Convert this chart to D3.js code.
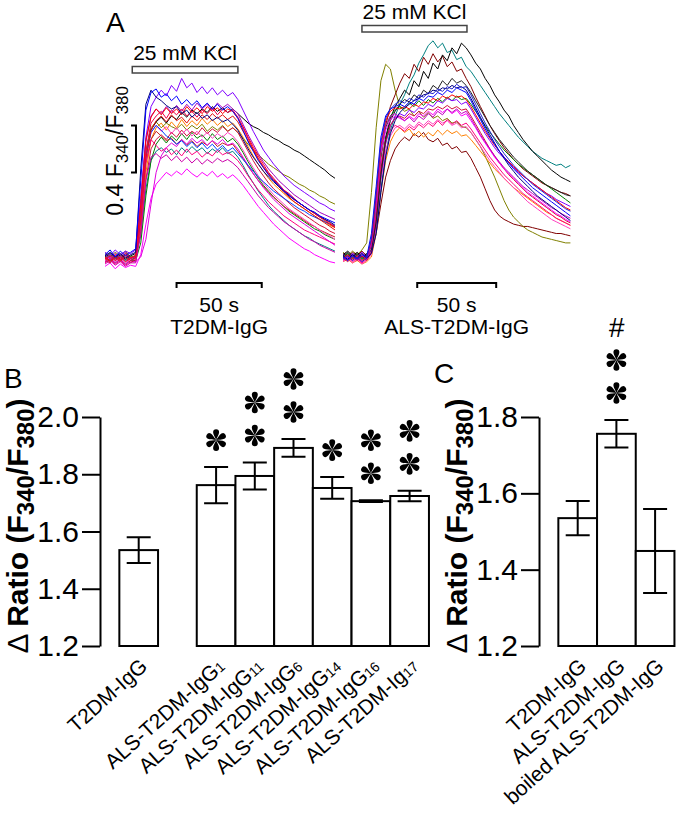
<!DOCTYPE html>
<html><head><meta charset="utf-8">
<script src="https://cdn.jsdelivr.net/npm/d3@7"></script>
<style>html,body{margin:0;padding:0;background:#fff}svg{display:block}</style>
</head><body><svg id="fig" width="677" height="817"></svg>
<script>
// ---------------- DATA ----------------
// Panel A: time grids (s) and F340/F380 traces
const timeLeft  = [0,3,6,9,12,15,18,21,24,27,30,33,36,39,42,45,48,51,54,57,60,63,66,69,72,75,78,81,84,87,90,93,96,99,102,105,108,111,114,117,120,123,126,129,132,135];
const timeRight = [0,3,6,9,12,15,18,21,24,27,30,33,36,39,42,45,48,51,54,57,60,63,66,69,72,75,78,81,84,87,90,93,96,99,102,105,108,111,114,117,120,123,126,129,132,135,138,141,144];

const tracesLeft = [
 [0.59,0.62,0.58,0.61,0.57,0.60,0.61, 0.78,1.18,1.42, 1.50,1.53,1.49,1.52,1.47,1.53,1.49,1.54,1.50,1.53,1.48,1.52,1.49,1.53,1.48,1.50, 1.45,1.38,1.30,1.23,1.16,1.10,1.04,0.99,0.95,0.91,0.87,0.84,0.81,0.78,0.76,0.73,0.71,0.69,0.67,0.65],
 [0.56,0.59,0.55,0.58,0.54,0.57,0.57, 0.72,1.12,1.42, 1.56,1.62,1.57,1.63,1.59,1.65,1.60,1.66,1.61,1.64,1.59,1.65,1.60,1.63,1.58,1.61, 1.56,1.49,1.41,1.34,1.27,1.21,1.16,1.11,1.07,1.03,0.99,0.96,0.93,0.90,0.87,0.84,0.82,0.79,0.77,0.75],
 [0.60,0.57,0.61,0.59,0.62,0.58,0.62, 0.85,1.32,1.60, 1.70,1.74,1.68,1.75,1.70,1.77,1.71,1.76,1.72,1.78,1.73,1.77,1.72,1.76,1.71,1.74, 1.69,1.62,1.54,1.46,1.39,1.33,1.27,1.22,1.18,1.14,1.10,1.07,1.04,1.01,0.98,0.95,0.92,0.90,0.87,0.85],
 [0.63,0.60,0.64,0.61,0.65,0.60,0.61, 1.00,1.50,1.70, 1.75,1.70,1.74,1.71,1.69,1.73,1.68,1.72,1.69,1.73,1.67,1.71,1.68,1.72,1.67,1.70, 1.66,1.61,1.56,1.51,1.47,1.43,1.39,1.36,1.33,1.30,1.28,1.25,1.22,1.20,1.17,1.15,1.12,1.10,1.07,1.05],
 [0.60,0.63,0.59,0.62,0.58,0.61,0.63, 0.98,1.45,1.68, 1.75,1.79,1.74,1.80,1.77,1.83,1.79,1.85,1.82,1.86,1.83,1.88,1.84,1.87,1.83,1.86, 1.82,1.78,1.74,1.71,1.69,1.66,1.64,1.61,1.59,1.56,1.54,1.51,1.49,1.46,1.43,1.40,1.37,1.34,1.30,1.27],
 [0.52,0.55,0.50,0.54,0.51,0.53,0.52, 0.62,0.88,1.10, 1.22,1.27,1.32,1.29,1.33,1.30,1.35,1.31,1.28,1.32,1.29,1.33,1.28,1.31,1.27,1.30, 1.26,1.21,1.15,1.09,1.03,0.98,0.93,0.88,0.84,0.80,0.76,0.73,0.70,0.67,0.65,0.62,0.60,0.58,0.56,0.55],
 [0.64,0.61,0.66,0.62,0.65,0.63,0.66, 1.10,1.62,1.88, 1.96,2.02,1.97,2.06,2.01,2.12,2.04,2.08,2.00,2.05,1.99,2.04,1.98,2.02,1.97,2.00, 1.94,1.85,1.76,1.67,1.59,1.51,1.45,1.39,1.34,1.29,1.25,1.21,1.18,1.15,1.12,1.09,1.06,1.04,1.01,0.99],
 [0.58,0.61,0.57,0.60,0.56,0.59,0.59, 0.95,1.40,1.60, 1.67,1.63,1.59,1.61,1.56,1.60,1.55,1.59,1.54,1.58,1.55,1.59,1.54,1.57,1.55,1.56, 1.50,1.44,1.37,1.31,1.25,1.20,1.15,1.11,1.07,1.03,1.00,0.97,0.94,0.91,0.88,0.86,0.83,0.81,0.79,0.77],
 [0.55,0.58,0.54,0.57,0.53,0.56,0.56, 0.90,1.40,1.60, 1.55,1.50,1.53,1.47,1.51,1.46,1.52,1.47,1.50,1.45,1.49,1.46,1.51,1.47,1.49,1.46, 1.42,1.36,1.29,1.23,1.17,1.12,1.07,1.03,0.99,0.95,0.92,0.89,0.86,0.83,0.81,0.79,0.77,0.75,0.73,0.71],
 [0.56,0.59,0.55,0.58,0.54,0.57,0.56, 0.60,0.75,1.05, 1.32,1.46,1.53,1.57,1.54,1.60,1.56,1.61,1.57,1.60,1.55,1.59,1.56,1.60,1.55,1.57, 1.52,1.45,1.38,1.31,1.25,1.19,1.14,1.09,1.05,1.01,0.97,0.94,0.91,0.88,0.85,0.82,0.79,0.76,0.73,0.70],
 [0.57,0.55,0.59,0.56,0.60,0.55,0.58, 0.82,1.26,1.52, 1.60,1.64,1.60,1.66,1.62,1.68,1.63,1.67,1.64,1.70,1.65,1.69,1.66,1.71,1.67,1.70, 1.66,1.58,1.50,1.42,1.35,1.29,1.23,1.18,1.14,1.10,1.06,1.02,0.99,0.96,0.93,0.90,0.87,0.85,0.82,0.80],
 [0.57,0.60,0.56,0.59,0.55,0.58,0.58, 1.00,1.45,1.66, 1.72,1.67,1.71,1.65,1.70,1.64,1.69,1.63,1.67,1.62,1.66,1.61,1.65,1.62,1.66,1.63, 1.58,1.51,1.43,1.36,1.29,1.23,1.18,1.13,1.09,1.05,1.01,0.98,0.95,0.92,0.89,0.86,0.83,0.80,0.78,0.75],
 [0.54,0.57,0.53,0.56,0.52,0.55,0.55, 0.80,1.25,1.45, 1.48,1.44,1.47,1.42,1.46,1.41,1.45,1.40,1.44,1.39,1.43,1.40,1.44,1.41,1.43,1.40, 1.36,1.30,1.24,1.18,1.12,1.07,1.02,0.98,0.94,0.90,0.87,0.84,0.81,0.78,0.75,0.73,0.70,0.68,0.66,0.64],
 [0.62,0.59,0.63,0.60,0.64,0.59,0.61, 1.10,1.58,1.80, 1.86,1.82,1.88,1.83,1.89,1.84,1.90,1.85,1.91,1.86,1.90,1.85,1.91,1.87,1.90,1.86, 1.82,1.73,1.64,1.56,1.48,1.41,1.35,1.30,1.25,1.21,1.17,1.13,1.10,1.07,1.04,1.01,0.98,0.96,0.94,0.92],
 [0.60,0.57,0.61,0.58,0.62,0.57,0.60, 1.00,1.46,1.66, 1.72,1.68,1.63,1.60,1.56,1.59,1.54,1.58,1.53,1.57,1.52,1.56,1.51,1.55,1.50,1.53, 1.48,1.43,1.38,1.33,1.28,1.24,1.20,1.16,1.13,1.10,1.07,1.04,1.01,0.99,0.96,0.94,0.92,0.90,0.88,0.86],
 [0.59,0.56,0.60,0.57,0.61,0.57,0.59, 0.92,1.44,1.68, 1.76,1.80,1.75,1.81,1.76,1.79,1.74,1.80,1.76,1.81,1.77,1.82,1.78,1.81,1.77,1.80, 1.75,1.67,1.59,1.51,1.43,1.36,1.30,1.25,1.20,1.15,1.11,1.07,1.04,1.01,0.98,0.95,0.92,0.89,0.86,0.83],
 [0.60,0.57,0.62,0.58,0.63,0.59,0.61, 1.05,1.60,1.79, 1.86,1.81,1.87,1.82,1.86,1.81,1.88,1.83,1.87,1.82,1.88,1.84,1.87,1.82,1.86,1.84, 1.78,1.70,1.61,1.52,1.44,1.37,1.31,1.26,1.21,1.17,1.13,1.09,1.06,1.03,1.00,0.97,0.94,0.91,0.88,0.85],
 [0.58,0.61,0.57,0.60,0.56,0.59,0.60, 0.95,1.50,1.74, 1.80,1.84,1.78,1.85,1.81,1.86,1.80,1.84,1.79,1.85,1.82,1.87,1.81,1.86,1.83,1.85, 1.79,1.71,1.62,1.54,1.46,1.39,1.32,1.27,1.22,1.17,1.14,1.10,1.06,1.03,1.00,0.97,0.94,0.92,0.89,0.86],
 [0.61,0.64,0.60,0.63,0.59,0.62,0.64, 1.35,1.90,2.02, 1.96,1.93,1.89,1.86,1.88,1.82,1.85,1.79,1.83,1.78,1.81,1.76,1.79,1.75,1.77,1.73, 1.68,1.60,1.52,1.45,1.39,1.33,1.28,1.24,1.20,1.16,1.12,1.09,1.06,1.03,1.00,0.98,0.95,0.92,0.90,0.87],
 [0.62,0.66,0.60,0.65,0.61,0.64,0.67, 1.25,1.85,2.00, 2.03,1.96,1.99,1.93,1.97,1.90,1.94,1.89,1.93,1.87,1.91,1.86,1.90,1.85,1.88,1.84, 1.78,1.68,1.58,1.50,1.42,1.36,1.30,1.25,1.21,1.16,1.13,1.09,1.06,1.03,1.00,0.98,0.95,0.93,0.91,0.89]
];
const colorsLeft = ["#008080","#008000","#ff8000","#808000","#000000","#ff00ff","#8000ff","#c02020","#ff0080","#e000e0","#d0103a","#ff40c0","#cc00aa","#a000c0","#0040ff","#e01010","#ff0000","#ee0044","#000080","#0000ff"];

const tracesRight = [
 [0.61,0.58,0.62,0.59,0.63,0.59, 0.64,0.80,1.05,1.28,1.42,1.52, 1.58,1.62,1.59,1.65,1.62,1.66,1.60,1.58,1.61,1.55,1.57,1.52,1.54,1.49,1.50, 1.44,1.36,1.28,1.18,1.08,1.00,0.95,0.92,0.90,0.88,0.87,0.86,0.86,0.85,0.84,0.83,0.82,0.81,0.80,0.80,0.79,0.78],
 [0.64,0.61,0.65,0.62,0.66,0.72, 1.15,1.70,2.10,2.24,2.20,2.02, 1.88,1.84,1.86,1.80,1.84,1.79,1.83,1.78,1.80,1.76,1.78,1.74,1.75,1.71,1.70, 1.66,1.60,1.54,1.46,1.37,1.28,1.18,1.08,1.00,0.94,0.90,0.86,0.83,0.81,0.79,0.77,0.76,0.75,0.74,0.73,0.72,0.72],
 [0.56,0.58,0.55,0.57,0.54,0.56, 0.60,0.80,1.15,1.42,1.58,1.66, 1.70,1.66,1.69,1.63,1.67,1.62,1.66,1.63,1.68,1.64,1.68,1.65,1.67,1.63,1.64, 1.60,1.55,1.50,1.45,1.40,1.35,1.31,1.27,1.23,1.19,1.16,1.13,1.10,1.07,1.04,1.01,0.98,0.96,0.93,0.91,0.89,0.87],
 [0.60,0.63,0.59,0.62,0.58,0.61, 0.64,0.82,1.18,1.48,1.68,1.80, 1.90,1.98,2.08,2.15,2.25,2.32,2.40,2.44,2.38,2.42,2.34,2.36,2.28,2.30,2.22, 2.18,2.12,2.06,2.00,1.94,1.88,1.82,1.77,1.72,1.67,1.62,1.58,1.54,1.50,1.47,1.44,1.42,1.40,1.38,1.39,1.36,1.38],
 [0.63,0.60,0.64,0.61,0.65,0.61, 0.72,1.05,1.45,1.72,1.88,1.98, 2.08,2.16,2.12,2.24,2.18,2.30,2.24,2.33,2.26,2.31,2.22,2.26,2.18,2.20,2.12, 2.05,1.96,1.88,1.80,1.72,1.65,1.59,1.53,1.48,1.43,1.39,1.35,1.32,1.29,1.26,1.23,1.21,1.19,1.17,1.15,1.14,1.12],
 [0.62,0.65,0.61,0.64,0.60,0.63, 0.68,0.95,1.35,1.62,1.78,1.88, 1.95,2.02,1.98,2.10,2.05,2.18,2.12,2.25,2.20,2.32,2.27,2.38,2.33,2.42,2.38, 2.32,2.25,2.20,2.12,2.06,1.98,1.92,1.85,1.80,1.72,1.66,1.60,1.55,1.50,1.46,1.42,1.38,1.34,1.31,1.28,1.26,1.24],
 [0.56,0.59,0.55,0.58,0.54,0.57, 0.62,0.85,1.25,1.50,1.63,1.70, 1.72,1.69,1.73,1.70,1.75,1.72,1.76,1.73,1.77,1.74,1.76,1.72,1.74,1.70,1.71, 1.66,1.60,1.54,1.48,1.42,1.37,1.32,1.27,1.23,1.19,1.15,1.11,1.07,1.04,1.01,0.98,0.95,0.92,0.90,0.88,0.86,0.84],
 [0.60,0.63,0.59,0.62,0.58,0.61, 0.70,1.02,1.45,1.70,1.80,1.85, 1.88,1.86,1.91,1.88,1.93,1.89,1.94,1.91,1.95,1.92,1.96,1.93,1.97,1.94,1.95, 1.90,1.84,1.78,1.72,1.66,1.61,1.56,1.51,1.47,1.43,1.39,1.36,1.33,1.30,1.27,1.24,1.21,1.18,1.15,1.12,1.09,1.06],
 [0.57,0.60,0.56,0.59,0.55,0.58, 0.66,0.96,1.38,1.60,1.68,1.72, 1.70,1.67,1.71,1.68,1.73,1.70,1.74,1.71,1.76,1.72,1.77,1.73,1.76,1.72,1.74, 1.69,1.63,1.57,1.51,1.45,1.40,1.35,1.30,1.26,1.22,1.18,1.14,1.11,1.08,1.05,1.02,0.99,0.96,0.93,0.91,0.89,0.87],
 [0.62,0.59,0.63,0.60,0.64,0.60, 0.66,0.88,1.28,1.56,1.72,1.79, 1.82,1.80,1.85,1.83,1.87,1.86,1.90,1.88,1.93,1.91,1.95,1.93,1.94,1.90,1.92, 1.86,1.79,1.72,1.65,1.59,1.53,1.48,1.44,1.40,1.36,1.32,1.29,1.26,1.23,1.20,1.17,1.14,1.12,1.09,1.07,1.05,1.03],
 [0.59,0.56,0.60,0.57,0.61,0.57, 0.64,0.90,1.32,1.58,1.72,1.78, 1.80,1.78,1.82,1.80,1.84,1.82,1.86,1.85,1.88,1.86,1.89,1.86,1.88,1.85,1.86, 1.80,1.73,1.66,1.59,1.52,1.46,1.40,1.35,1.30,1.26,1.22,1.18,1.14,1.11,1.08,1.05,1.02,0.99,0.96,0.94,0.91,0.89],
 [0.61,0.64,0.60,0.63,0.59,0.62, 0.66,0.90,1.30,1.60,1.76,1.84, 1.90,1.94,1.92,1.98,1.95,2.02,1.99,2.06,2.03,2.10,2.06,2.12,2.08,2.10,2.06, 2.00,1.93,1.86,1.79,1.72,1.66,1.60,1.55,1.50,1.45,1.41,1.37,1.33,1.30,1.27,1.24,1.21,1.19,1.17,1.15,1.13,1.12],
 [0.58,0.62,0.57,0.61,0.56,0.60, 0.72,1.05,1.48,1.68,1.77,1.80, 1.78,1.76,1.80,1.77,1.82,1.80,1.84,1.81,1.86,1.83,1.86,1.82,1.85,1.80,1.82, 1.76,1.70,1.63,1.57,1.51,1.45,1.40,1.35,1.31,1.27,1.23,1.19,1.15,1.12,1.09,1.06,1.03,1.00,0.97,0.95,0.92,0.90],
 [0.60,0.57,0.61,0.58,0.62,0.58, 0.70,1.08,1.52,1.72,1.80,1.82, 1.79,1.76,1.79,1.75,1.80,1.77,1.82,1.79,1.84,1.81,1.86,1.83,1.86,1.82,1.84, 1.78,1.71,1.64,1.58,1.52,1.46,1.41,1.36,1.32,1.28,1.24,1.20,1.17,1.14,1.11,1.08,1.05,1.02,1.00,0.97,0.95,0.93],
 [0.59,0.62,0.58,0.61,0.57,0.60, 0.74,1.12,1.55,1.76,1.84,1.87, 1.86,1.88,1.86,1.90,1.88,1.92,1.91,1.95,1.93,1.97,1.95,1.98,1.96,1.97,1.94, 1.88,1.81,1.74,1.67,1.61,1.55,1.50,1.45,1.41,1.37,1.33,1.29,1.26,1.23,1.20,1.17,1.14,1.11,1.08,1.05,1.02,1.00],
 [0.61,0.58,0.62,0.59,0.63,0.59, 0.63,0.80,1.15,1.45,1.65,1.76, 1.83,1.87,1.90,1.93,1.95,1.98,1.99,2.02,2.01,2.04,2.03,2.06,2.04,2.05,2.02, 1.95,1.87,1.79,1.71,1.64,1.57,1.50,1.44,1.38,1.33,1.28,1.24,1.20,1.16,1.12,1.09,1.06,1.03,1.00,0.97,0.94,0.91],
 [0.60,0.57,0.61,0.58,0.62,0.60, 0.80,1.20,1.62,1.80,1.86,1.88, 1.90,1.88,1.92,1.90,1.95,1.93,1.97,1.96,2.00,1.98,2.02,2.00,2.04,2.02,2.00, 1.93,1.85,1.77,1.69,1.62,1.56,1.50,1.45,1.40,1.35,1.31,1.27,1.23,1.19,1.16,1.13,1.10,1.07,1.04,1.01,0.98,0.95],
 [0.58,0.61,0.57,0.60,0.56,0.59, 0.76,1.15,1.58,1.78,1.86,1.90, 1.93,1.91,1.95,1.93,1.98,1.96,2.00,1.99,2.03,2.01,2.05,2.03,2.07,2.04,2.05, 1.98,1.90,1.82,1.74,1.67,1.60,1.54,1.48,1.43,1.38,1.34,1.30,1.26,1.22,1.19,1.16,1.13,1.10,1.07,1.04,1.01,0.99]
];
const colorsRight = ["#800000","#808000","#ff8000","#008080","#800000","#000000","#ff40c0","#008000","#ff0080","#8000ff","#d0103a","#202020","#ff00ff","#c000c0","#ff0000","#000080","#0000ff","#2020d0"];

const kclLeft = [16, 78];      // s
const kclRight = [12, 78.5];   // s
const scaleBarTime = 50;       // s
const scaleBarLeftStart = 42, scaleBarRightStart = 47;
const scaleBarRatio = [1.32, 1.72]; // 0.4 ratio units

// Panel B
const slotsB = ["T2DM-IgG", "", "ALS1", "ALS11", "ALS6", "ALS14", "ALS16", "ALS17"];
const labelBaseB = ["T2DM-IgG", "ALS-T2DM-IgG", "ALS-T2DM-IgG", "ALS-T2DM-IgG", "ALS-T2DM-IgG", "ALS-T2DM-IgG", "ALS-T2DM-Ig"];
const labelSubB  = ["", "1", "11", "6", "14", "16", "17"];
const catsB = ["T2DM-IgG", "ALS1", "ALS11", "ALS6", "ALS14", "ALS16", "ALS17"];
const meansB = [1.535, 1.762, 1.794, 1.892, 1.752, 1.706, 1.724];
const semB   = [0.045, 0.063, 0.047, 0.031, 0.038, 0.003, 0.018];
const starsB = [0, 1, 2, 2, 1, 2, 2];
const ticksB = [1.2, 1.4, 1.6, 1.8, 2.0];

// Panel C
const catsC = ["T2DM-IgG", "ALS-T2DM-IgG", "boiled ALS-T2DM-IgG"];
const meansC = [1.535, 1.756, 1.449];
const semC   = [0.045, 0.036, 0.110];
const starsC = [0, 2, 0];
const hashC  = [false, true, false];
const ticksC = [1.2, 1.4, 1.6, 1.8];

// ---------------- DRAW ----------------
const FONT = "'Liberation Sans', Arial, Helvetica, sans-serif";
const svg = d3.select("#fig").attr("font-family", FONT);
svg.append("rect").attr("width", 677).attr("height", 817).attr("fill", "#fff");

// Panel A scales
const xL = d3.scaleLinear().domain([0, 135]).range([105, 335]);
const xR = d3.scaleLinear().domain([0, 145]).range([343, 572]);
const yA = d3.scaleLinear().domain([0.6, 2.6]).range([257, 22]);

function drawTraces(traces, colors, times, xs) {
  const line = d3.line().x((d, i) => xs(times[i])).y(d => yA(d));
  svg.append("g").selectAll("path").data(traces).join("path")
    .attr("d", line).attr("fill", "none")
    .attr("stroke", (d, i) => colors[i % colors.length])
    .attr("stroke-width", 1).attr("stroke-linejoin", "round");
}
drawTraces(tracesLeft, colorsLeft, timeLeft, xL);
drawTraces(tracesRight, colorsRight, timeRight, xR);

svg.append("text").attr("x", 106).attr("y", 32).attr("font-size", 28).text("A");

// KCl bars
function kcl(xs, on, textY, rectY) {
  svg.append("text").attr("x", (xs(on[0]) + xs(on[1])) / 2).attr("y", textY)
    .attr("text-anchor", "middle").attr("font-size", 21).text("25 mM KCl");
  svg.append("rect").attr("x", xs(on[0])).attr("y", rectY)
    .attr("width", xs(on[1]) - xs(on[0])).attr("height", 6.5)
    .attr("fill", "#fff").attr("stroke", "#444").attr("stroke-width", 1.5);
}
kcl(xL, kclLeft, 60, 66.5);
kcl(xR, kclRight, 19, 25.5);

// vertical scale bar
const sbx = 136;
svg.append("path").attr("fill", "none").attr("stroke", "#000").attr("stroke-width", 2)
  .attr("d", `M${sbx - 5},${yA(scaleBarRatio[1])}H${sbx}V${yA(scaleBarRatio[0])}H${sbx - 5}`);
const vl = svg.append("text").attr("transform", `translate(123,${(yA(scaleBarRatio[0]) + yA(scaleBarRatio[1])) / 2 + 2}) rotate(-90)`)
  .attr("text-anchor", "middle").attr("font-size", 23);
vl.append("tspan").text("0.4 F");
vl.append("tspan").attr("font-size", 17).attr("dy", 5).text("340");
vl.append("tspan").attr("dy", -5).text("/F");
vl.append("tspan").attr("font-size", 17).attr("dy", 5).text("380");

// horizontal scale bars + captions
function hbar(xs, start, caption) {
  const x0 = xs(start), x1 = xs(start + scaleBarTime);
  svg.append("path").attr("fill", "none").attr("stroke", "#000").attr("stroke-width", 2)
    .attr("d", `M${x0},${288}V${283}H${x1}V${288}`);
  const cx = (x0 + x1) / 2;
  svg.append("text").attr("x", cx).attr("y", 312).attr("text-anchor", "middle").attr("font-size", 21).text("50 s");
  svg.append("text").attr("x", cx).attr("y", 334).attr("text-anchor", "middle").attr("font-size", 21).text(caption);
}
hbar(xL, scaleBarLeftStart, "T2DM-IgG");
hbar(xR, scaleBarRightStart, "ALS-T2DM-IgG");

// asterisk glyph: six teardrop petals
function star(g, cx, cy) {
  const s = g.append("g").attr("transform", `translate(${cx},${cy})`);
  for (let a = 0; a < 360; a += 60) {
    s.append("path").attr("transform", `rotate(${a})`)
      .attr("d", "M0,0 C-0.8,-2.5 -3,-5.5 -3,-7.8 A3,3 0 0,1 3,-7.8 C3,-5.5 0.8,-2.5 0,0 Z").attr("fill", "#000");
  }
}

function yLabel(x, cy) {
  const t = svg.append("text").attr("transform", `translate(${x},${cy}) rotate(-90)`)
    .attr("text-anchor", "middle").attr("font-size", 30).attr("font-weight", "bold");
  t.append("tspan").attr("font-weight", "normal").text("\u0394 ");
  t.append("tspan").text("Ratio (F");
  t.append("tspan").attr("font-size", 24).attr("dy", 6).text("340");
  t.append("tspan").attr("dy", -6).text("/F");
  t.append("tspan").attr("font-size", 24).attr("dy", 6).text("380");
  t.append("tspan").attr("dy", -6).text(")");
}

function barPanel(opt) {
  const { y, x, cats, means, sem, stars, hash, axisX, ticks, labelBase, labelSub } = opt;
  const ax = svg.append("g").attr("transform", `translate(${axisX},0)`)
    .call(d3.axisLeft(y).tickValues(ticks).tickFormat(d3.format(".1f")).tickSize(18).tickSizeOuter(0).tickPadding(3));
  ax.selectAll("text").attr("font-size", 30).attr("font-family", FONT).attr("fill", "#000");
  ax.selectAll("line,path").attr("stroke", "#000").attr("stroke-width", 2);
  const g = svg.append("g");
  const bw = x.bandwidth();
  cats.forEach((c, i) => {
    const x0 = x(c), cx = x0 + bw / 2;
    g.append("rect").attr("x", x0).attr("y", y(means[i])).attr("width", bw)
      .attr("height", y(y.domain()[0]) - y(means[i]))
      .attr("fill", "#fff").attr("stroke", "#000").attr("stroke-width", 2);
    const yt = y(means[i] + sem[i]), yb = y(means[i] - sem[i]);
    g.append("path").attr("fill", "none").attr("stroke", "#000").attr("stroke-width", 2)
      .attr("d", `M${cx},${yt}V${yb}M${cx - 12},${yt}H${cx + 12}M${cx - 12},${yb}H${cx + 12}`);
    for (let k = 0; k < stars[i]; k++) star(g, cx, yt - 27 - 33 * k);
    if (hash && hash[i]) {
      g.append("text").attr("x", cx).attr("y", yt - 27 - 33 * stars[i] + 10)
        .attr("text-anchor", "middle").attr("font-size", 28).attr("font-style", "italic").text("#");
    }
    const t = g.append("text").attr("transform", `translate(${cx + 10},668) rotate(-42)`)
      .attr("text-anchor", "end").attr("font-size", 21);
    t.append("tspan").text(labelBase[i]);
    if (labelSub && labelSub[i]) t.append("tspan").attr("font-size", 14).text(labelSub[i]);
  });
}

// Panel B
const yB = d3.scaleLinear().domain([1.2, 2.0]).range([646, 417]);
const xB = d3.scaleBand().domain(slotsB).range([100, 100 + 9 * 38.7]).paddingInner(0).paddingOuter(0.5);
barPanel({ y: yB, x: xB, cats: catsB, means: meansB, sem: semB, stars: starsB, hash: null,
  axisX: 100, ticks: ticksB, labelBase: labelBaseB, labelSub: labelSubB });
yLabel(28, 526);
svg.append("text").attr("x", 4).attr("y", 388).attr("font-size", 28).text("B");

// Panel C
const yC = d3.scaleLinear().domain([1.2, 1.8]).range([646, 417]);
const xC = d3.scaleBand().domain(catsC).range([539, 539 + 4 * 38.7]).paddingInner(0).paddingOuter(0.5);
barPanel({ y: yC, x: xC, cats: catsC, means: meansC, sem: semC, stars: starsC, hash: hashC,
  axisX: 539, ticks: ticksC, labelBase: catsC, labelSub: null });
yLabel(467, 526);
svg.append("text").attr("x", 434).attr("y", 383).attr("font-size", 28).text("C");
</script></body></html>
